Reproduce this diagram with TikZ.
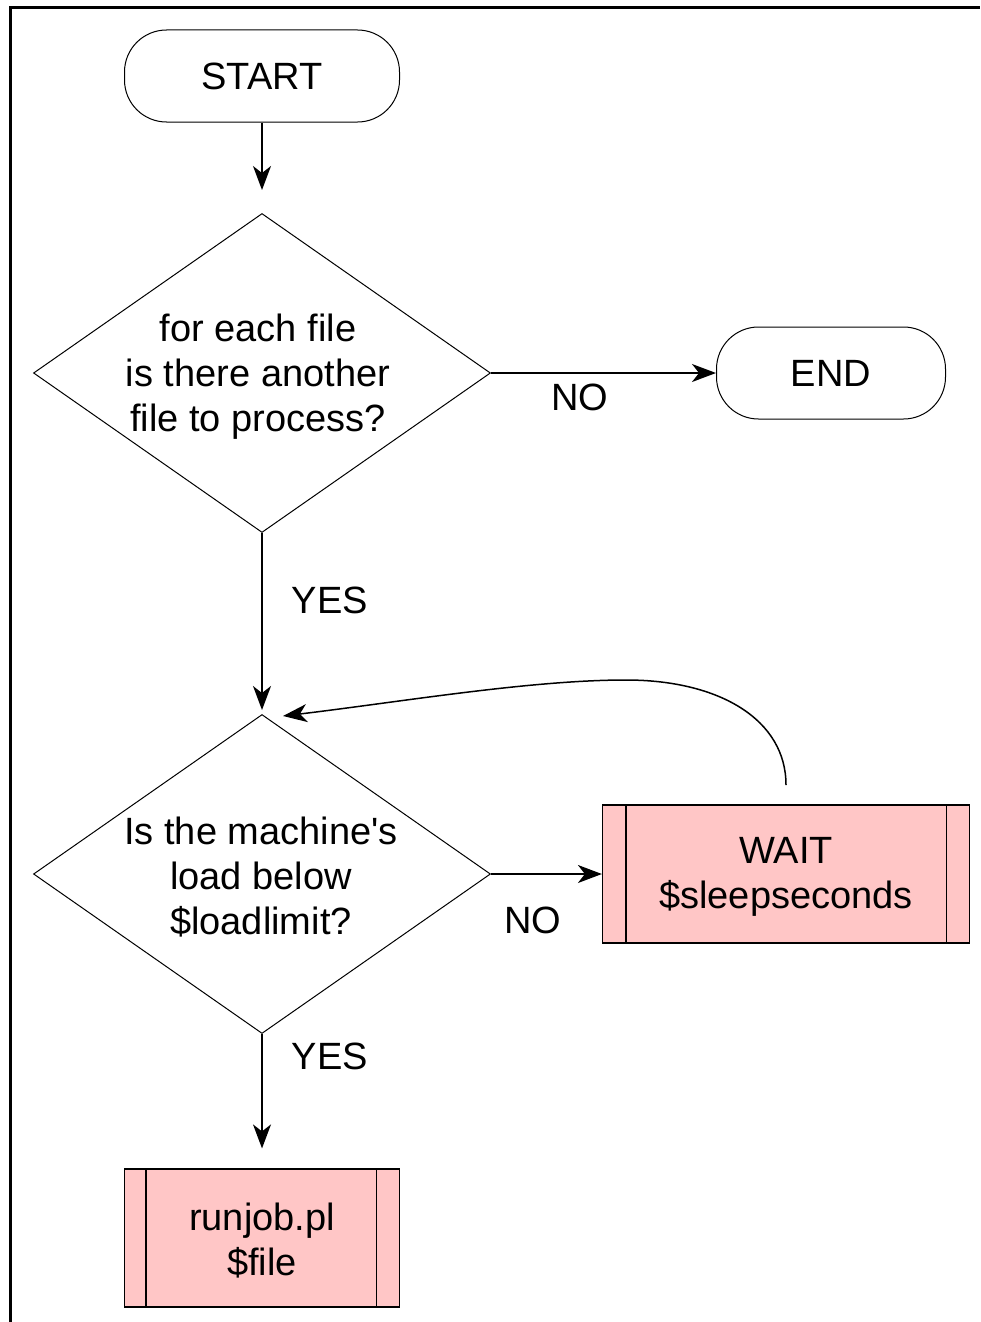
\documentclass[tikz,border=0pt]{standalone}
\usepackage{fontspec}
\setmainfont{Liberation Sans}
\usetikzlibrary{shapes.geometric,arrows.meta}
\definecolor{procpink}{RGB}{255,198,198}
\tikzset{
  term/.style={draw=black, line width=1pt, rounded corners=42pt, minimum width=#1, minimum height=92pt, inner sep=0pt},
  decision/.style={draw=black, line width=1pt, diamond, minimum width=457pt, minimum height=319pt, inner sep=0pt},
  procbox/.style={draw=black, line width=1.2pt, fill=procpink, rectangle, minimum width=#1, minimum height=138pt, inner sep=0pt},
  lbl/.style={align=center, inner sep=0pt},
  conn/.style={line width=1.5pt, -{Stealth[length=24pt, width=18pt, inset=7pt]}},
}
\begin{document}
\begin{tikzpicture}[x=1pt, y=-1pt, font=\fontsize{38}{45}\selectfont]
\useasboundingbox (0,0) rectangle (980,1322);
% frame
\draw[line width=3pt] (10,1322) -- (10,8) -- (980,8);
% nodes
\node[term=275pt] (start) at (262,76) {START};
\node[decision] (d1) at (262,373) {};
\node[lbl] (d1t) at (258,377) {for each file\\is there another\\file to process?};
\node[term=229pt] (end) at (831,373) {END};
\node[decision] (d2) at (262,874) {};
\node[lbl] (d2t) at (261,877) {Is the machine\textquotesingle s\\load below\\\$loadlimit?};
\node[procbox=367pt] (wait) at (786,874) {};
\node[lbl] (waitt) at (786,877) {WAIT\\\$sleepseconds};
\node[procbox=275pt] (run) at (262,1238) {};
\node[lbl] (runt) at (262,1241) {runjob.pl\\\$file};
% inner bars of process boxes
\draw[line width=1.2pt] ([xshift=24pt]wait.north west) -- ([xshift=24pt]wait.south west);
\draw[line width=1.2pt] ([xshift=-24pt]wait.north east) -- ([xshift=-24pt]wait.south east);
\draw[line width=1.2pt] ([xshift=22pt]run.north west) -- ([xshift=22pt]run.south west);
\draw[line width=1.2pt] ([xshift=-24pt]run.north east) -- ([xshift=-24pt]run.south east);
% connectors
\draw[conn, shorten >=23pt] (start.south) -- (d1.north);
\draw[conn] (d1.east) -- (end.west);
\draw[conn, shorten >=4pt] (d1.south) -- (d2.north);
\draw[conn] (d2.east) -- (wait.west);
\draw[conn, shorten >=20pt] (d2.south) -- (run.north);
\coordinate (loopstart) at (786,785);
\coordinate (looppeak) at (626,680);
\coordinate (looptip) at (283,716);
\draw[conn] (loopstart) .. controls (786,720) and (720,680) .. (looppeak)
  .. controls (530,680) and (400,702) .. (looptip);
% labels
\node[lbl] (no1) at (580,397) {NO};
\node[lbl] (yes1) at (330,600) {YES};
\node[lbl] (no2) at (533,920) {NO};
\node[lbl] (yes2) at (330,1056) {YES};
\end{tikzpicture}
\end{document}
